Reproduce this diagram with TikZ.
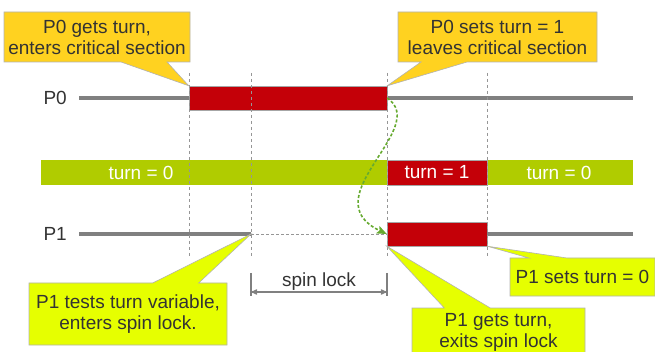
\documentclass[tikz,border=0pt]{standalone}
\usepackage{fontspec}
\setmainfont{Liberation Sans}
\usetikzlibrary{positioning,arrows,arrows.meta,shapes.callouts}
\definecolor{colortext}  {RGB}{ 51, 51, 51}
\definecolor{colorline}  {RGB}{128,128,128}
\definecolor{colorguide} {RGB}{150,150,150}
\definecolor{colorcrit}  {RGB}{196,  0,  8}
\definecolor{colorturn}  {RGB}{176,204,  0}
\definecolor{colornoteA} {RGB}{255,210, 32}
\definecolor{colornoteB} {RGB}{230,255,  0}
\definecolor{colorhand}  {RGB}{102,170, 48}

\begin{document}
\begin{tikzpicture}[
    x=1pt, y=-1pt,
    font={\fontsize{19}{21}\selectfont},
    txt/.style={text=colortext,inner sep=0pt,align=center},
    life/.style={draw=colorline,line width=3.3pt},
    wait/.style={draw=colorguide,line width=0.8pt,dash pattern=on 3pt off 2pt},
    guide/.style={draw=colorguide,line width=0.8pt,dash pattern=on 3pt off 3pt},
    crit/.style={fill=colorcrit,draw=black!35,line width=0.4pt,minimum height=24pt,inner sep=0pt,text=white},
    stopbar/.style={draw=colorline,line width=2.6pt},
    span/.style={draw=colorline,line width=1.2pt,stealth'-stealth'},
    note/.style={rectangle callout,txt,draw=black!30,line width=0.6pt,callout pointer width=46pt},
    noteA/.style={note,fill=colornoteA},
    noteB/.style={note,fill=colornoteB},
    handover/.style={draw=colorhand,line width=1.6pt,dash pattern=on 3pt off 2pt,-{Stealth[length=10pt,width=8pt,inset=2pt]}},
]
    \useasboundingbox (0,0) rectangle (655,352);

    % process P0
    \coordinate (p0start) at (79,98);
    \coordinate (p0end)   at (633,98);
    \node[txt,left=12pt of p0start] (p0label) {P0};
    \draw[life] (p0start) -- (p0end);
    \node[crit,minimum width=198pt] (p0crit) at (288,98) {};

    % shared variable
    \node[fill=colorturn,minimum width=592pt,minimum height=25pt,inner sep=0pt] (turnbar) at (337,172.5) {};
    \node[crit,minimum width=100pt,minimum height=25pt] (turn1) at (437,172.5) {turn = 1};
    \node[txt,text=white] (turn0a) at (141,172.5) {turn = 0};
    \node[txt,text=white] (turn0b) at (559,172.5) {turn = 0};

    % process P1
    \coordinate (p1start)   at (79,234);
    \coordinate (spinstart) at (251,234);
    \coordinate (p1end)     at (633,234);
    \node[txt,left=12pt of p1start] (p1label) {P1};
    \node[crit,minimum width=100pt] (p1crit) at (437,234) {};
    \draw[life] (p1start) -- (spinstart);
    \draw[wait] (spinstart) -- (p1crit.west);
    \draw[life] (p1crit.east) -- (p1end);

    % time marks
    \foreach \x in {189,251,387,487}
        \draw[guide] (\x,73) -- (\x,258);

    % hand over from P0 to P1
    \draw[handover] (p0crit.east) .. controls +(44,30) and +(-76,-36) .. (p1crit.west);

    % spin lock interval
    \coordinate (spinA) at (251,292);
    \coordinate (spinB) at (387,292);
    \draw[stopbar] (spinA) ++(0,-19) -- ++(0,23);
    \draw[stopbar] (spinB) ++(0,-19) -- ++(0,23);
    \draw[span] (spinA) -- node[txt,above=1pt] (spinlabel) {spin lock} (spinB);

    % notes
    \node[noteA,minimum width=186pt,minimum height=50pt,callout absolute pointer={(p0crit.north west)}] (p0gets) at (97,37) {P0 gets turn,\\enters critical section};
    \node[noteA,minimum width=199pt,minimum height=50pt,callout absolute pointer={(p0crit.north east)}] (p0sets) at (497.5,37) {P0 sets turn = 1\\leaves critical section};
    \node[noteB,minimum width=198pt,minimum height=62pt,callout absolute pointer={(spinstart)}] (p1tests) at (128,314) {P1 tests turn variable,\\enters spin lock.};
    \node[noteB,minimum width=173pt,minimum height=48pt,callout absolute pointer={(p1crit.south west)}] (p1gets) at (498.5,332) {P1 gets turn,\\exits spin lock};
    \node[noteB,minimum width=145pt,minimum height=38pt,callout pointer width=38pt,callout absolute pointer={(p1crit.south east)}] (p1sets) at (582.5,277) {P1 sets turn = 0};

\end{tikzpicture}
\end{document}
